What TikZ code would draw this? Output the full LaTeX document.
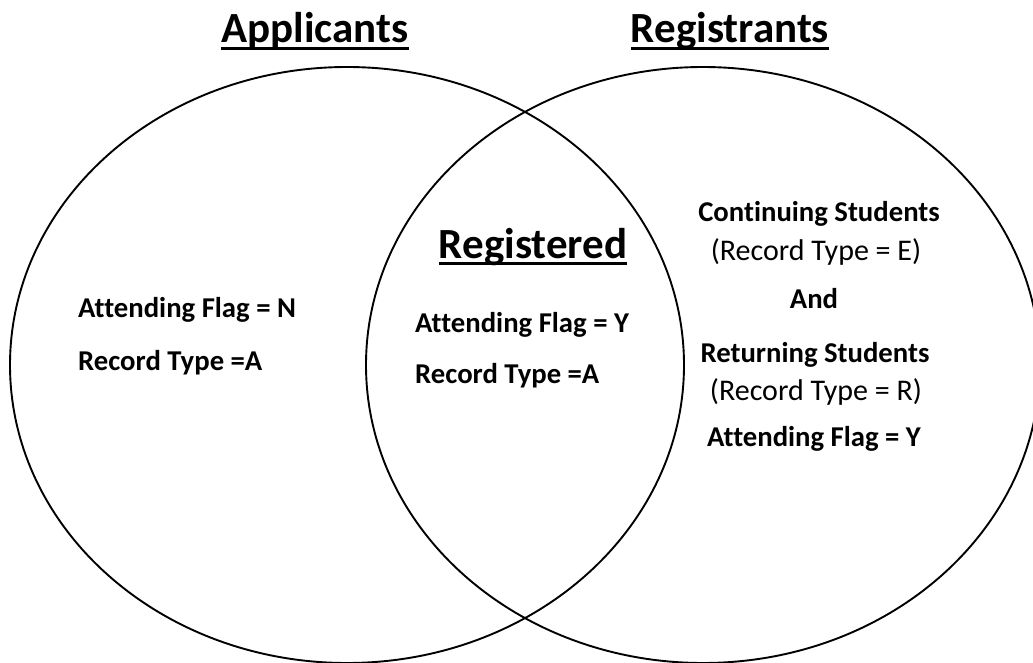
\documentclass[tikz,border=0pt]{standalone}
\usepackage{fontspec}
\setmainfont{Carlito}[Ligatures={TeX,NoCommon}]
\usetikzlibrary{shapes.geometric}
\newcommand{\ulhead}[1]{\setbox0\hbox{#1}\rlap{\rule[-7pt]{\wd0}{3pt}}\box0}

\begin{document}
\begin{tikzpicture}[x=1pt, y=-1pt,
	setnode/.style={ellipse, draw=black, line width=1.9pt, inner sep=0pt, minimum width=674pt, minimum height=596pt},
	headnode/.style={font=\fontsize{43}{50}\selectfont\bfseries, inner sep=0pt, anchor=base},
	boldnode/.style={font=\fontsize{28.7}{32}\selectfont\bfseries, inner sep=0pt, anchor=base},
	plainnode/.style={font=\fontsize{30}{34}\selectfont, inner sep=0pt, anchor=base},
	]
	\useasboundingbox (0,0) rectangle (1033,663);
	
	%Sets
	\node[setnode]	(appset)	at (347,365)	{};
	\node[setnode]	(regset)	at (703,365)	{};
	
	%Headings
	\node[headnode]	(apptitle)	at (315,43)	{\ulhead{Applicants}};
	\node[headnode]	(regtitle)	at (730,43)	{\ulhead{Registrants}};
	\node[headnode]	(regd)		at (533,258)	{\ulhead{Registered}};
	
	%Applicants only
	\node[boldnode, anchor=base west]	(appflag)	at (78,317)	{Attending Flag = N};
	\node[boldnode, anchor=base west]	(apptype)	at (78,370)	{Record Type =A};
	
	%Overlap
	\node[boldnode, anchor=base west]	(regdflag)	at (415,332)	{Attending Flag = Y};
	\node[boldnode, anchor=base west]	(regdtype)	at (415,383)	{Record Type =A};
	
	%Registrants only
	\node[boldnode]		(cont)		at (819,222)	{Continuing Students};
	\node[plainnode]	(conttype)	at (816,260)	{(Record Type = E)};
	\node[boldnode]		(andword)	at (814,308)	{And};
	\node[boldnode]		(ret)		at (815,362)	{Returning Students};
	\node[plainnode]	(rettype)	at (816,400)	{(Record Type = R)};
	\node[boldnode]		(regflag)	at (814,446)	{Attending Flag = Y};
	
\end{tikzpicture}
\end{document}
